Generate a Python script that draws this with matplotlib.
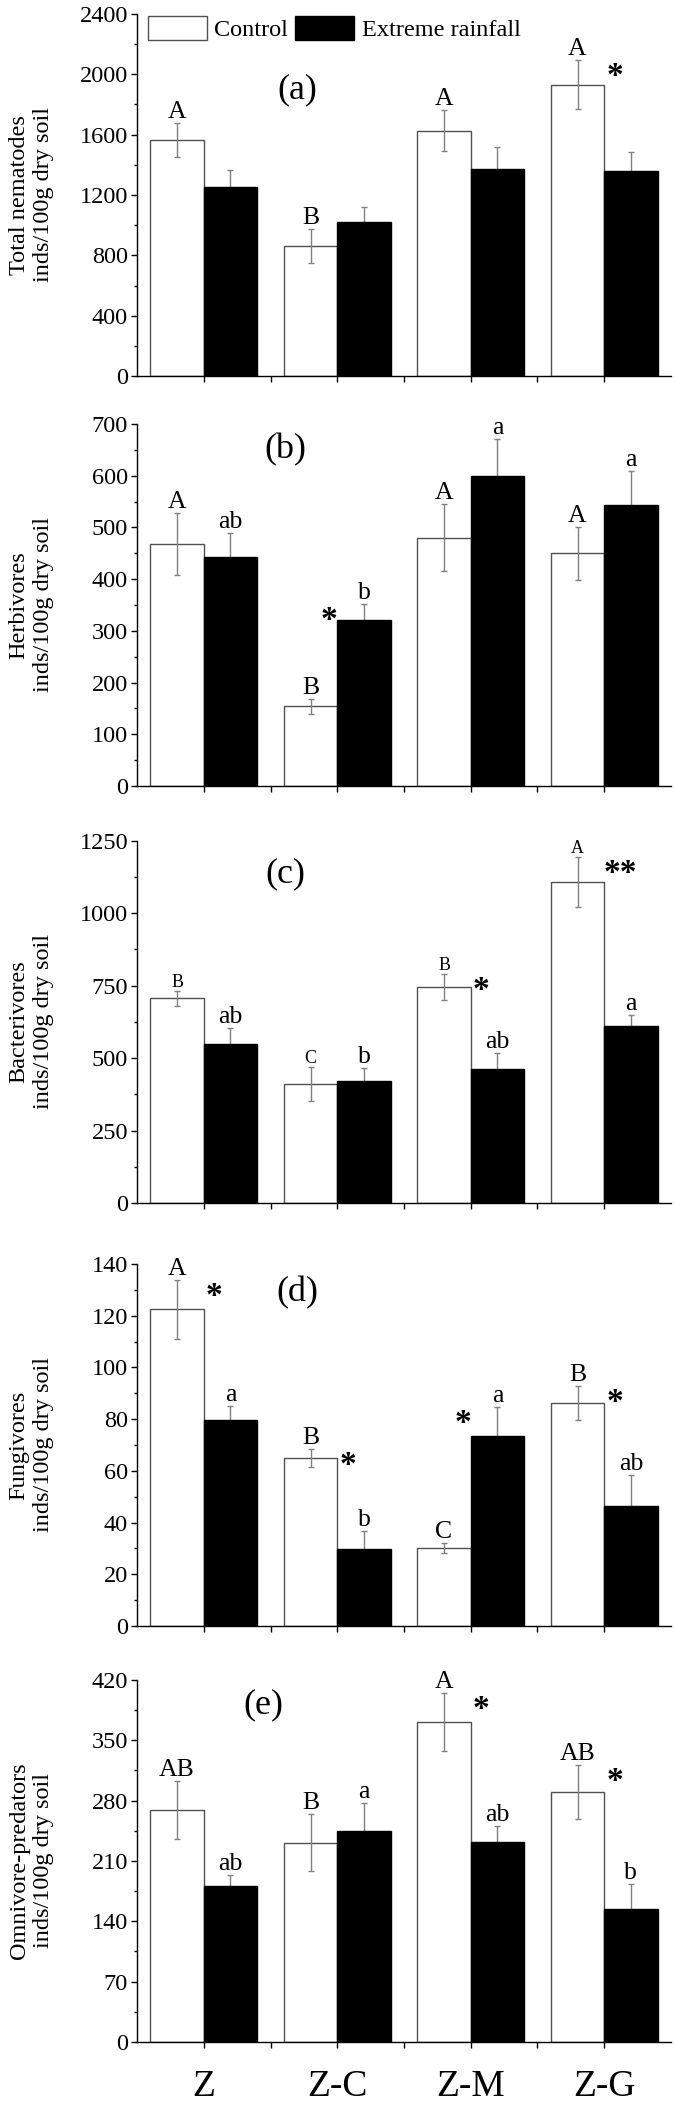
import numpy as np
import matplotlib
matplotlib.use('Agg')
import matplotlib.pyplot as plt
import matplotlib.transforms as mtransforms
from matplotlib.patches import Patch
from matplotlib.ticker import MultipleLocator, FixedLocator

plt.rcParams['font.family'] = ['Liberation Serif', 'DejaVu Serif']

cats = ['Z', 'Z-C', 'Z-M', 'Z-G']

# (a) total nematodes
tot_ctrl = [1565, 863, 1627, 1931]
tot_ctrl_err = [115, 112, 135, 162]
tot_rain = [1253, 1019, 1370, 1358]
tot_rain_err = [112, 100, 151, 124]
tot_ctrl_lab = ['A', 'B', 'A', 'A']
tot_rain_lab = ['', '', '', '']
tot_stars = ['', '', '', '*']

# (b) herbivores
her_ctrl = [467, 154, 480, 450]
her_ctrl_err = [60, 15, 65, 51]
her_rain = [443, 320, 599, 543]
her_rain_err = [47, 31, 71, 66]
her_ctrl_lab = ['A', 'B', 'A', 'A']
her_rain_lab = ['ab', 'b', 'a', 'a']
her_stars = ['', '*', '', '']

# (c) bacterivores
bac_ctrl = [707, 411, 747, 1108]
bac_ctrl_err = [26, 60, 45, 88]
bac_rain = [549, 420, 464, 612]
bac_rain_err = [54, 45, 52, 37]
bac_ctrl_lab = ['B', 'C', 'B', 'A']
bac_rain_lab = ['ab', 'b', 'ab', 'a']
bac_stars = ['', '', '*', '**']

# (d) fungivores
fun_ctrl = [122.4, 65.0, 30.1, 86.1]
fun_ctrl_err = [11.5, 3.5, 2.0, 6.6]
fun_rain = [79.6, 29.9, 73.4, 46.3]
fun_rain_err = [5.6, 7.0, 11.4, 12.0]
fun_ctrl_lab = ['A', 'B', 'C', 'B']
fun_rain_lab = ['a', 'b', 'a', 'ab']
fun_stars = ['*', '*', '*', '*']

# (e) omnivore-predators
omn_ctrl = [269, 231, 371, 290]
omn_ctrl_err = [34, 33, 34, 31]
omn_rain = [181, 245, 232, 154]
omn_rain_err = [13, 32, 18, 29]
omn_ctrl_lab = ['AB', 'B', 'A', 'AB']
omn_rain_lab = ['ab', 'a', 'ab', 'b']
omn_stars = ['', '', '*', '*']

panels = [
    ('(a)', 'Total nematodes\ninds/100g dry soil', 2400, 400,
     tot_ctrl, tot_ctrl_err, tot_rain, tot_rain_err, tot_ctrl_lab, tot_rain_lab, tot_stars),
    ('(b)', 'Herbivores\ninds/100g dry soil', 700, 100,
     her_ctrl, her_ctrl_err, her_rain, her_rain_err, her_ctrl_lab, her_rain_lab, her_stars),
    ('(c)', 'Bacterivores\ninds/100g dry soil', 1250, 250,
     bac_ctrl, bac_ctrl_err, bac_rain, bac_rain_err, bac_ctrl_lab, bac_rain_lab, bac_stars),
    ('(d)', 'Fungivores\ninds/100g dry soil', 140, 20,
     fun_ctrl, fun_ctrl_err, fun_rain, fun_rain_err, fun_ctrl_lab, fun_rain_lab, fun_stars),
    ('(e)', 'Omnivore-predators\ninds/100g dry soil', 420, 70,
     omn_ctrl, omn_ctrl_err, omn_rain, omn_rain_err, omn_ctrl_lab, omn_rain_lab, omn_stars),
]

# layout (figure fractions)
bottoms = [0.8217, 0.6273, 0.4296, 0.2290, 0.0318]
tag_pos = [(0.30, 0.79), (0.277, 0.928), (0.277, 0.91), (0.30, 0.92), (0.236, 0.93)]
cap_size = [18.5, 18.5, 13, 18.5, 18.5]
fs = 17.5

fig = plt.figure(figsize=(6.75, 21.09), dpi=100)
x = np.arange(1, 5)
w = 0.4
ecol = '#808080'

for i, (tag, ylab, ymax, ystep, c, ce, r, re, cl, rl, st) in enumerate(panels):
    ax = fig.add_axes([0.203, bottoms[i], 0.791, 0.1717])
    ax.bar(x - w/2, c, w, color='white', edgecolor='#505050', linewidth=1, zorder=2)
    ax.bar(x + w/2, r, w, color='black', edgecolor='black', linewidth=1, zorder=2)
    ax.errorbar(x - w/2, c, yerr=ce, fmt='none', ecolor=ecol, elinewidth=1,
                capsize=2, zorder=3)
    ax.errorbar(x + w/2, r, yerr=re, fmt='none', ecolor=ecol, elinewidth=1,
                capsize=2, zorder=1)

    for k in range(4):
        ctop = c[k] + ce[k]
        rtop = r[k] + re[k]
        if cl[k]:
            ax.annotate(cl[k], (x[k] - w/2, ctop), xytext=(0, 0), textcoords='offset points',
                        ha='center', va='bottom', fontsize=cap_size[i])
        if rl[k]:
            ax.annotate(rl[k], (x[k] + w/2, rtop), xytext=(0, 0), textcoords='offset points',
                        ha='center', va='bottom', fontsize=18.5)
        if st[k]:
            sx = x[k] + 0.08 + 0.04 * (len(st[k]) - 1) if ctop >= rtop else x[k] - 0.06
            ax.annotate(st[k], (sx, max(ctop, rtop)), xytext=(0, -18), textcoords='offset points',
                        ha='center', va='baseline', fontsize=24, fontweight='bold')

    ax.set_xlim(0.5, 4.5)
    ax.set_ylim(0, ymax)
    ax.yaxis.set_major_locator(MultipleLocator(ystep))
    ax.yaxis.set_minor_locator(MultipleLocator(ystep / 2))
    ax.xaxis.set_major_locator(FixedLocator(x))
    ax.xaxis.set_minor_locator(FixedLocator([1.5, 2.5, 3.5]))
    ax.tick_params(axis='both', which='major', direction='out', length=4.5, width=1,
                   labelsize=fs, pad=2)
    ax.tick_params(axis='both', which='minor', direction='out', length=2.5, width=1)
    ax.tick_params(axis='x', which='minor', length=4.5)
    for s in ['top', 'right']:
        ax.spines[s].set_visible(False)
    for s in ['left', 'bottom']:
        ax.spines[s].set_linewidth(1)
    ax.set_xticklabels([])

    if i == 4:
        # category names sit well below the last panel
        trans = mtransforms.blended_transform_factory(ax.transData, ax.transAxes)
        for k in range(4):
            ax.text(x[k], -0.15, cats[k], transform=trans, ha='center', va='baseline',
                    fontsize=27)

    ax.set_ylabel(ylab, fontsize=fs, linespacing=1.2, va='center')
    ax.yaxis.set_label_coords(-0.198, 0.5)
    ax.text(tag_pos[i][0], tag_pos[i][1], tag, transform=ax.transAxes,
            ha='center', va='center', fontsize=26)

    if i == 0:
        handles = [Patch(facecolor='white', edgecolor='#505050', linewidth=1),
                   Patch(facecolor='black', edgecolor='black')]
        ax.legend(handles, ['Control', 'Extreme rainfall'], loc='upper left',
                  bbox_to_anchor=(0.02, 0.995), ncol=2, frameon=False, fontsize=fs,
                  handlelength=2.43, handleheight=1.15, handletextpad=0.3,
                  columnspacing=0.3, borderpad=0, borderaxespad=0)

fig.savefig('out.png', dpi=100)
